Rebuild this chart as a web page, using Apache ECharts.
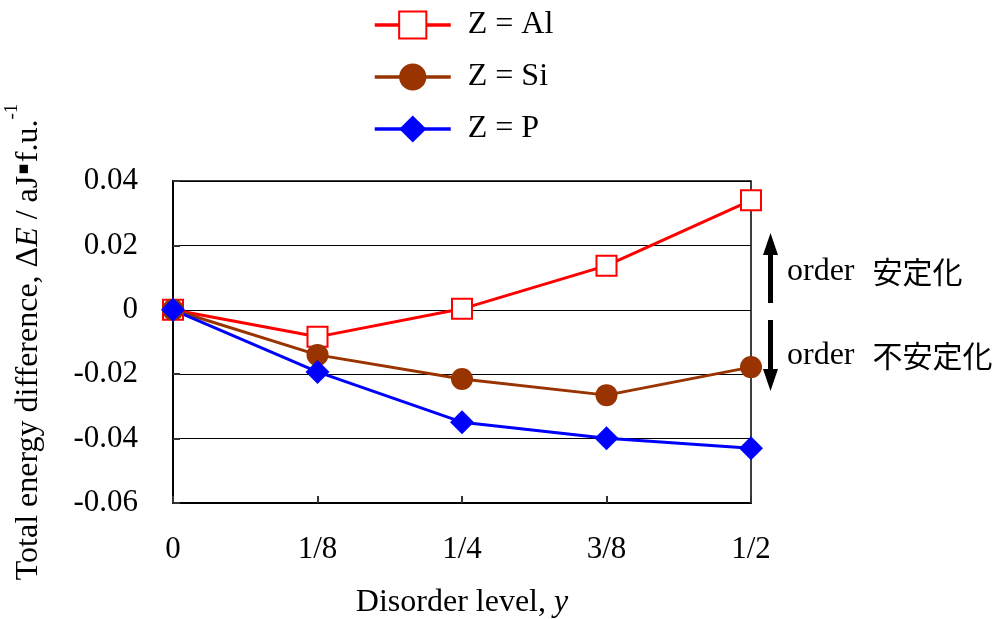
<!DOCTYPE html>
<html>
<head>
<meta charset="utf-8">
<script src="https://cdn.jsdelivr.net/npm/echarts@6/dist/echarts.min.js"></script>
<style>html,body{margin:0;padding:0;background:#fff}#c{width:1000px;height:619px}</style>
</head>
<body>
<div id="c"></div>
<script>
const categories = ['0', '1/8', '1/4', '3/8', '1/2'];
const seriesNames = ['Z = Al', 'Z = Si', 'Z = P'];
const alValues = [0, -0.0084, 0.0003, 0.0137, 0.034];
const siValues = [0, -0.014, -0.0215, -0.0265, -0.0178];
const pValues = [0, -0.0193, -0.0349, -0.0399, -0.043];
const yTicks = { min: -0.06, max: 0.04, interval: 0.02 };

const serif = '"Liberation Serif", "Times New Roman", serif';
const cjk = '"Noto Sans CJK JP", "Noto Sans CJK SC", sans-serif';

const chart = echarts.init(document.getElementById('c'));
chart.setOption({
  animation: false,
  backgroundColor: '#fff',
  grid: { left: 173, right: 249, top: 181, bottom: 116, containLabel: false, outerBoundsMode: 'none',
          show: true, borderColor: '#000', borderWidth: 1.5, backgroundColor: 'transparent' },
  legend: {
    orient: 'vertical', left: 368, top: 4,
    itemWidth: 76, itemHeight: 34, itemGap: 20,
    data: seriesNames,
    lineStyle: { width: 3.5 },
    textStyle: { fontFamily: serif, fontSize: 32, color: '#000', padding: [0, 0, 0, 12] }
  },
  xAxis: {
    type: 'category', data: categories, boundaryGap: false,
    name: '{t|Disorder level, }{i|y}', nameLocation: 'middle', nameGap: 84,
    nameTextStyle: { rich: { t: { fontFamily: serif, fontSize: 32, color: '#000' }, i: { fontFamily: serif, fontSize: 32, fontStyle: 'italic', color: '#000' } } },
    axisLine: { onZero: false, lineStyle: { color: '#000', width: 2 } },
    axisTick: { show: true, inside: true, length: 7, alignWithLabel: true, lineStyle: { color: '#333', width: 2 } },
    axisLabel: { interval: 0, margin: 31, fontFamily: serif, fontSize: 31, color: '#000' },
    splitLine: { show: false }
  },
  yAxis: {
    type: 'value', min: yTicks.min, max: yTicks.max, interval: yTicks.interval,
    name: '{t|Total energy difference, Δ}{i|E}{t| / aJ}{d|▪}{t|f.u.}{s|-1}',
    nameLocation: 'middle', nameGap: 128, nameRotate: 90,
    nameTextStyle: { rich: {
      t: { fontFamily: serif, fontSize: 32, color: '#000', verticalAlign: 'bottom', lineHeight: 42 },
      i: { fontFamily: serif, fontSize: 32, fontStyle: 'italic', color: '#000', verticalAlign: 'bottom', lineHeight: 42 },
      d: { fontFamily: '"DejaVu Sans", sans-serif', fontSize: 17, color: '#000', verticalAlign: 'middle', lineHeight: 42, padding: [0, 1, 0, 1] },
      s: { fontFamily: serif, fontSize: 19, color: '#000', verticalAlign: 'top', lineHeight: 42 }
    } },
    axisLine: { show: true, lineStyle: { color: '#000', width: 2 } },
    axisTick: { show: true, inside: true, length: 7, lineStyle: { color: '#333', width: 2 } },
    axisLabel: { margin: 35, fontFamily: serif, fontSize: 31, color: '#000' },
    splitLine: { show: true, lineStyle: { color: '#000', width: 1 } }
  },
  series: [
    { name: seriesNames[0], type: 'line', data: alValues, symbol: 'emptyRect', symbolSize: 20,
      lineStyle: { color: '#ff0000', width: 3 }, itemStyle: { color: '#ff0000', borderColor: '#ff0000', borderWidth: 1.5 } },
    { name: seriesNames[1], type: 'line', data: siValues, symbol: 'circle', symbolSize: 22,
      lineStyle: { color: '#993300', width: 3 }, itemStyle: { color: '#993300' } },
    { name: seriesNames[2], type: 'line', data: pValues, symbol: 'diamond', symbolSize: 24,
      lineStyle: { color: '#0000ff', width: 3 }, itemStyle: { color: '#0000ff' } }
  ],
  graphic: [
    { type: 'rect', shape: { x: 768, y: 252, width: 5, height: 51 }, style: { fill: '#000' } },
    { type: 'polygon', shape: { points: [[770.5, 233], [763, 255], [778, 255]] }, style: { fill: '#000' } },
    { type: 'rect', shape: { x: 768, y: 320, width: 5, height: 52 }, style: { fill: '#000' } },
    { type: 'polygon', shape: { points: [[770.5, 391], [763, 369], [778, 369]] }, style: { fill: '#000' } },
    { type: 'text', left: 787, top: 256, style: { text: '{s|order }{c|安定化}', rich: {
      s: { fontFamily: serif, fontSize: 32, fill: '#000' }, c: { fontFamily: cjk, fontSize: 30, fill: '#000', padding: [0, 0, 0, 10] } } } },
    { type: 'text', left: 787, top: 340, style: { text: '{s|order }{c|不安定化}', rich: {
      s: { fontFamily: serif, fontSize: 32, fill: '#000' }, c: { fontFamily: cjk, fontSize: 30, fill: '#000', padding: [0, 0, 0, 10] } } } }
  ]
});
</script>
</body>
</html>
